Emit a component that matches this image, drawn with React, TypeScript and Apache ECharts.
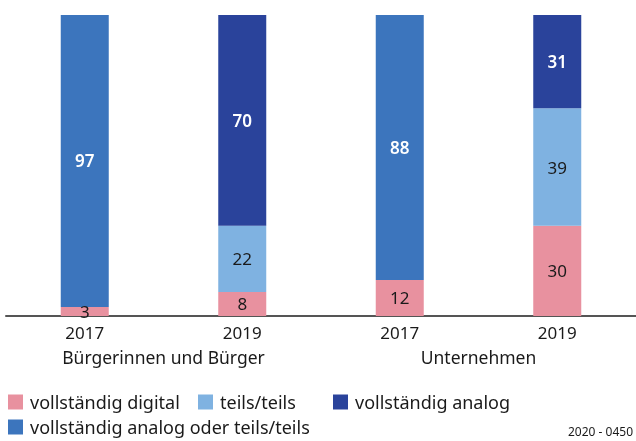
import React, { useEffect, useRef } from "react";
import * as echarts from "echarts";

const years = ["2017", "2019", "2017", "2019"];
const groups = ["Bürgerinnen und Bürger", "Unternehmen"];
const digital = [3, 8, 12, 30];
const teils = [null, 22, null, 39];
const analog = [null, 70, null, 31];
const analogOderTeils = [97, null, 88, null];
const seriesNames = [
  "vollständig digital",
  "teils/teils",
  "vollständig analog",
  "vollständig analog oder teils/teils",
];
const colors = ["#E8919F", "#7FB2E1", "#2A439B", "#3C75BD"];
const labelColors = ["#1a1a1a", "#1a1a1a", "#ffffff", "#ffffff"];
const sourceNote = "2020 - 0450";

const FONT = "'Noto Sans', sans-serif";

export default function App() {
  const ref = useRef<HTMLDivElement>(null);
  useEffect(() => {
    if (!ref.current) return;
    const chart = echarts.init(ref.current, null, { renderer: "svg" });
    const data = [digital, teils, analog, analogOderTeils];
    const legendPos = [
      { left: 8, top: 393 },
      { left: 198, top: 393 },
      { left: 333, top: 393 },
      { left: 8, top: 418 },
    ];
    chart.setOption({
      animation: false,
      textStyle: { fontFamily: FONT },
      grid: { left: 6, right: 0, top: 15, bottom: 125 },
      legend: seriesNames.map((n, i) => ({
        data: [n],
        left: legendPos[i].left,
        top: legendPos[i].top,
        icon: "rect",
        itemWidth: 15,
        itemHeight: 15,
        itemGap: 0,
        padding: 0,
        textStyle: {
          fontSize: 18,
          lineHeight: 18,
          color: "#1a1a1a",
          fontFamily: FONT,
          padding: [0, 0, 0, 2],
        },
      })),
      xAxis: [
        {
          type: "category",
          data: years,
          axisLine: { lineStyle: { color: "#555555", width: 2 } },
          axisTick: { show: false },
          axisLabel: { fontSize: 17, color: "#1a1a1a", margin: 8, fontFamily: FONT },
        },
        {
          type: "category",
          data: groups,
          position: "bottom",
          offset: 24,
          axisLine: { show: false },
          axisTick: { show: false },
          axisLabel: { fontSize: 17.5, color: "#1a1a1a", margin: 8, fontFamily: FONT },
        },
      ],
      yAxis: {
        type: "value",
        min: 0,
        max: 100,
        show: false,
      },
      series: seriesNames.map((n, i) => ({
        name: n,
        type: "bar",
        stack: "total",
        xAxisIndex: 0,
        barWidth: 48,
        data: data[i],
        itemStyle: { color: colors[i] },
        label: {
          show: true,
          position: "inside",
          fontSize: 17,
          color: labelColors[i],
          fontFamily: FONT,
          fontWeight: i >= 2 ? 600 : "normal",
        },
      })),
      graphic: [
        {
          type: "text",
          right: 3,
          top: 425,
          style: { text: sourceNote, fontSize: 12, fill: "#1a1a1a", fontFamily: FONT },
        },
      ],
    });
    return () => chart.dispose();
  }, []);
  return (
    <div
      ref={ref}
      style={{ position: "fixed", left: 0, top: 0, width: 636, height: 441 }}
    />
  );
}
